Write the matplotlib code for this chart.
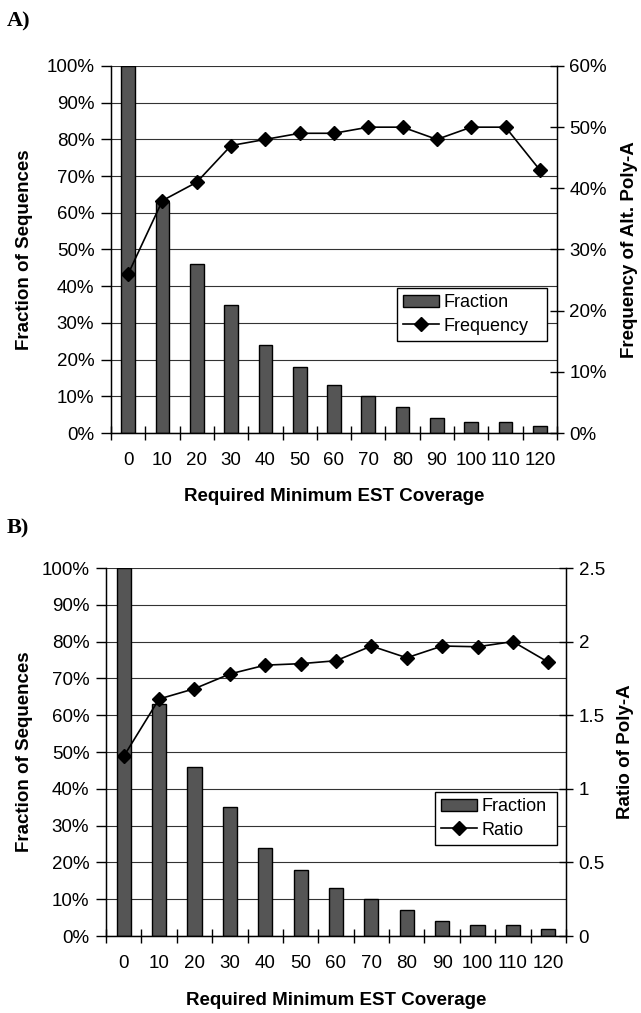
import numpy as np
import matplotlib
matplotlib.use("Agg")
import matplotlib.pyplot as plt
from matplotlib.ticker import FixedLocator

plt.rcParams['font.family'] = ['Liberation Sans', 'DejaVu Sans']

coverage = ['0', '10', '20', '30', '40', '50', '60', '70', '80', '90', '100', '110', '120']
fraction = [100, 63, 46, 35, 24, 18, 13, 10, 7, 4, 3, 3, 2]
frequency = [26, 38, 41, 47, 48, 49, 49, 50, 50, 48, 50, 50, 43]
ratio = [1.22, 1.61, 1.68, 1.78, 1.84, 1.85, 1.87, 1.97, 1.89, 1.97, 1.965, 2.00, 1.86]

W, H = 641, 1013
fig = plt.figure(figsize=(W / 100, H / 100), dpi=100)
fs = 13.5
lfs = 13


def px_axes(left, top, right, bottom):
    return fig.add_axes([left / W, 1 - bottom / H, (right - left) / W, (bottom - top) / H])


def draw_panel(ax, right_vals, right_lim, right_ticks, right_fmt, line_name, leg_box):
    x = np.arange(len(coverage))
    ax.bar(x, fraction, width=0.4, color='#555555', edgecolor='black', linewidth=1.0,
           label='Fraction', zorder=2)
    ax.set_xlim(-0.5, len(coverage) - 0.5)
    ax.set_ylim(0, 100)
    ax.set_yticks(np.arange(0, 101, 10))
    ax.set_yticklabels(['%d%%' % v for v in range(0, 101, 10)], fontsize=fs)
    ax.yaxis.grid(True, color='#333333', linewidth=0.8, zorder=0)
    ax.set_axisbelow(True)
    ax.set_xticks(x)
    ax.set_xticklabels(coverage, fontsize=fs)
    ax.tick_params(axis='x', which='major', length=0, pad=14)
    ax.xaxis.set_minor_locator(FixedLocator(np.arange(-0.5, len(coverage), 1)))
    ax.tick_params(axis='x', which='minor', direction='inout', length=10, width=1)
    ax.tick_params(axis='y', direction='out', length=7, width=1, pad=5)
    ax.spines['top'].set_visible(False)
    for s in ['left', 'bottom', 'right']:
        ax.spines[s].set_linewidth(1.0)

    ax2 = ax.twinx()
    ax2.plot(x, right_vals, color='black', linewidth=1.2, marker='D', markersize=7.5,
             label=line_name, zorder=3)
    ax2.set_ylim(*right_lim)
    ax2.set_yticks(right_ticks)
    ax2.set_yticklabels([right_fmt(v) for v in right_ticks], fontsize=fs)
    ax2.tick_params(axis='y', direction='inout', length=10, width=1, pad=4)
    ax2.spines['top'].set_visible(False)

    h1, l1 = ax.get_legend_handles_labels()
    h2, l2 = ax2.get_legend_handles_labels()
    ax2.legend(h1 + h2, l1 + l2, loc='lower left', bbox_to_anchor=leg_box,
               bbox_transform=fig.transFigure, mode='expand', fontsize=lfs,
               frameon=True, fancybox=False, edgecolor='black', framealpha=1,
               borderpad=0.35, labelspacing=0.35, handlelength=2.0, handletextpad=0.25,
               borderaxespad=0)
    return ax2


# panel A
axA = px_axes(111, 66, 557, 433)
draw_panel(axA, frequency, (0, 60), list(range(0, 61, 10)), lambda v: '%d%%' % v,
           'Frequency', (397 / W, 1 - 341 / H, 150 / W, 58 / H))

# panel B
axB = px_axes(106, 568, 566, 936)
draw_panel(axB, ratio, (0, 2.5), [0, 0.5, 1, 1.5, 2, 2.5], lambda v: '%g' % v,
           'Ratio', (435 / W, 1 - 845 / H, 122 / W, 59 / H))


def ftext(x, y, s, **kw):
    fig.text(x / W, 1 - y / H, s, **kw)


ftext(7, 21, 'A)', fontsize=16, fontweight='bold', family='Liberation Serif', va='center')
ftext(7, 528, 'B)', fontsize=16, fontweight='bold', family='Liberation Serif', va='center')

ftext(25, 250, 'Fraction of Sequences', fontsize=fs, fontweight='bold', rotation=90,
      ha='center', va='center')
ftext(630, 250, 'Frequency of Alt. Poly-A', fontsize=fs, fontweight='bold', rotation=90,
      ha='center', va='center')
ftext(334, 496, 'Required Minimum EST Coverage', fontsize=fs, fontweight='bold',
      ha='center', va='center')

ftext(25, 752, 'Fraction of Sequences', fontsize=fs, fontweight='bold', rotation=90,
      ha='center', va='center')
ftext(625, 752, 'Ratio of Poly-A', fontsize=fs, fontweight='bold', rotation=90,
      ha='center', va='center')
ftext(336, 1000, 'Required Minimum EST Coverage', fontsize=fs, fontweight='bold',
      ha='center', va='center')

fig.savefig('out.png', dpi=100)
